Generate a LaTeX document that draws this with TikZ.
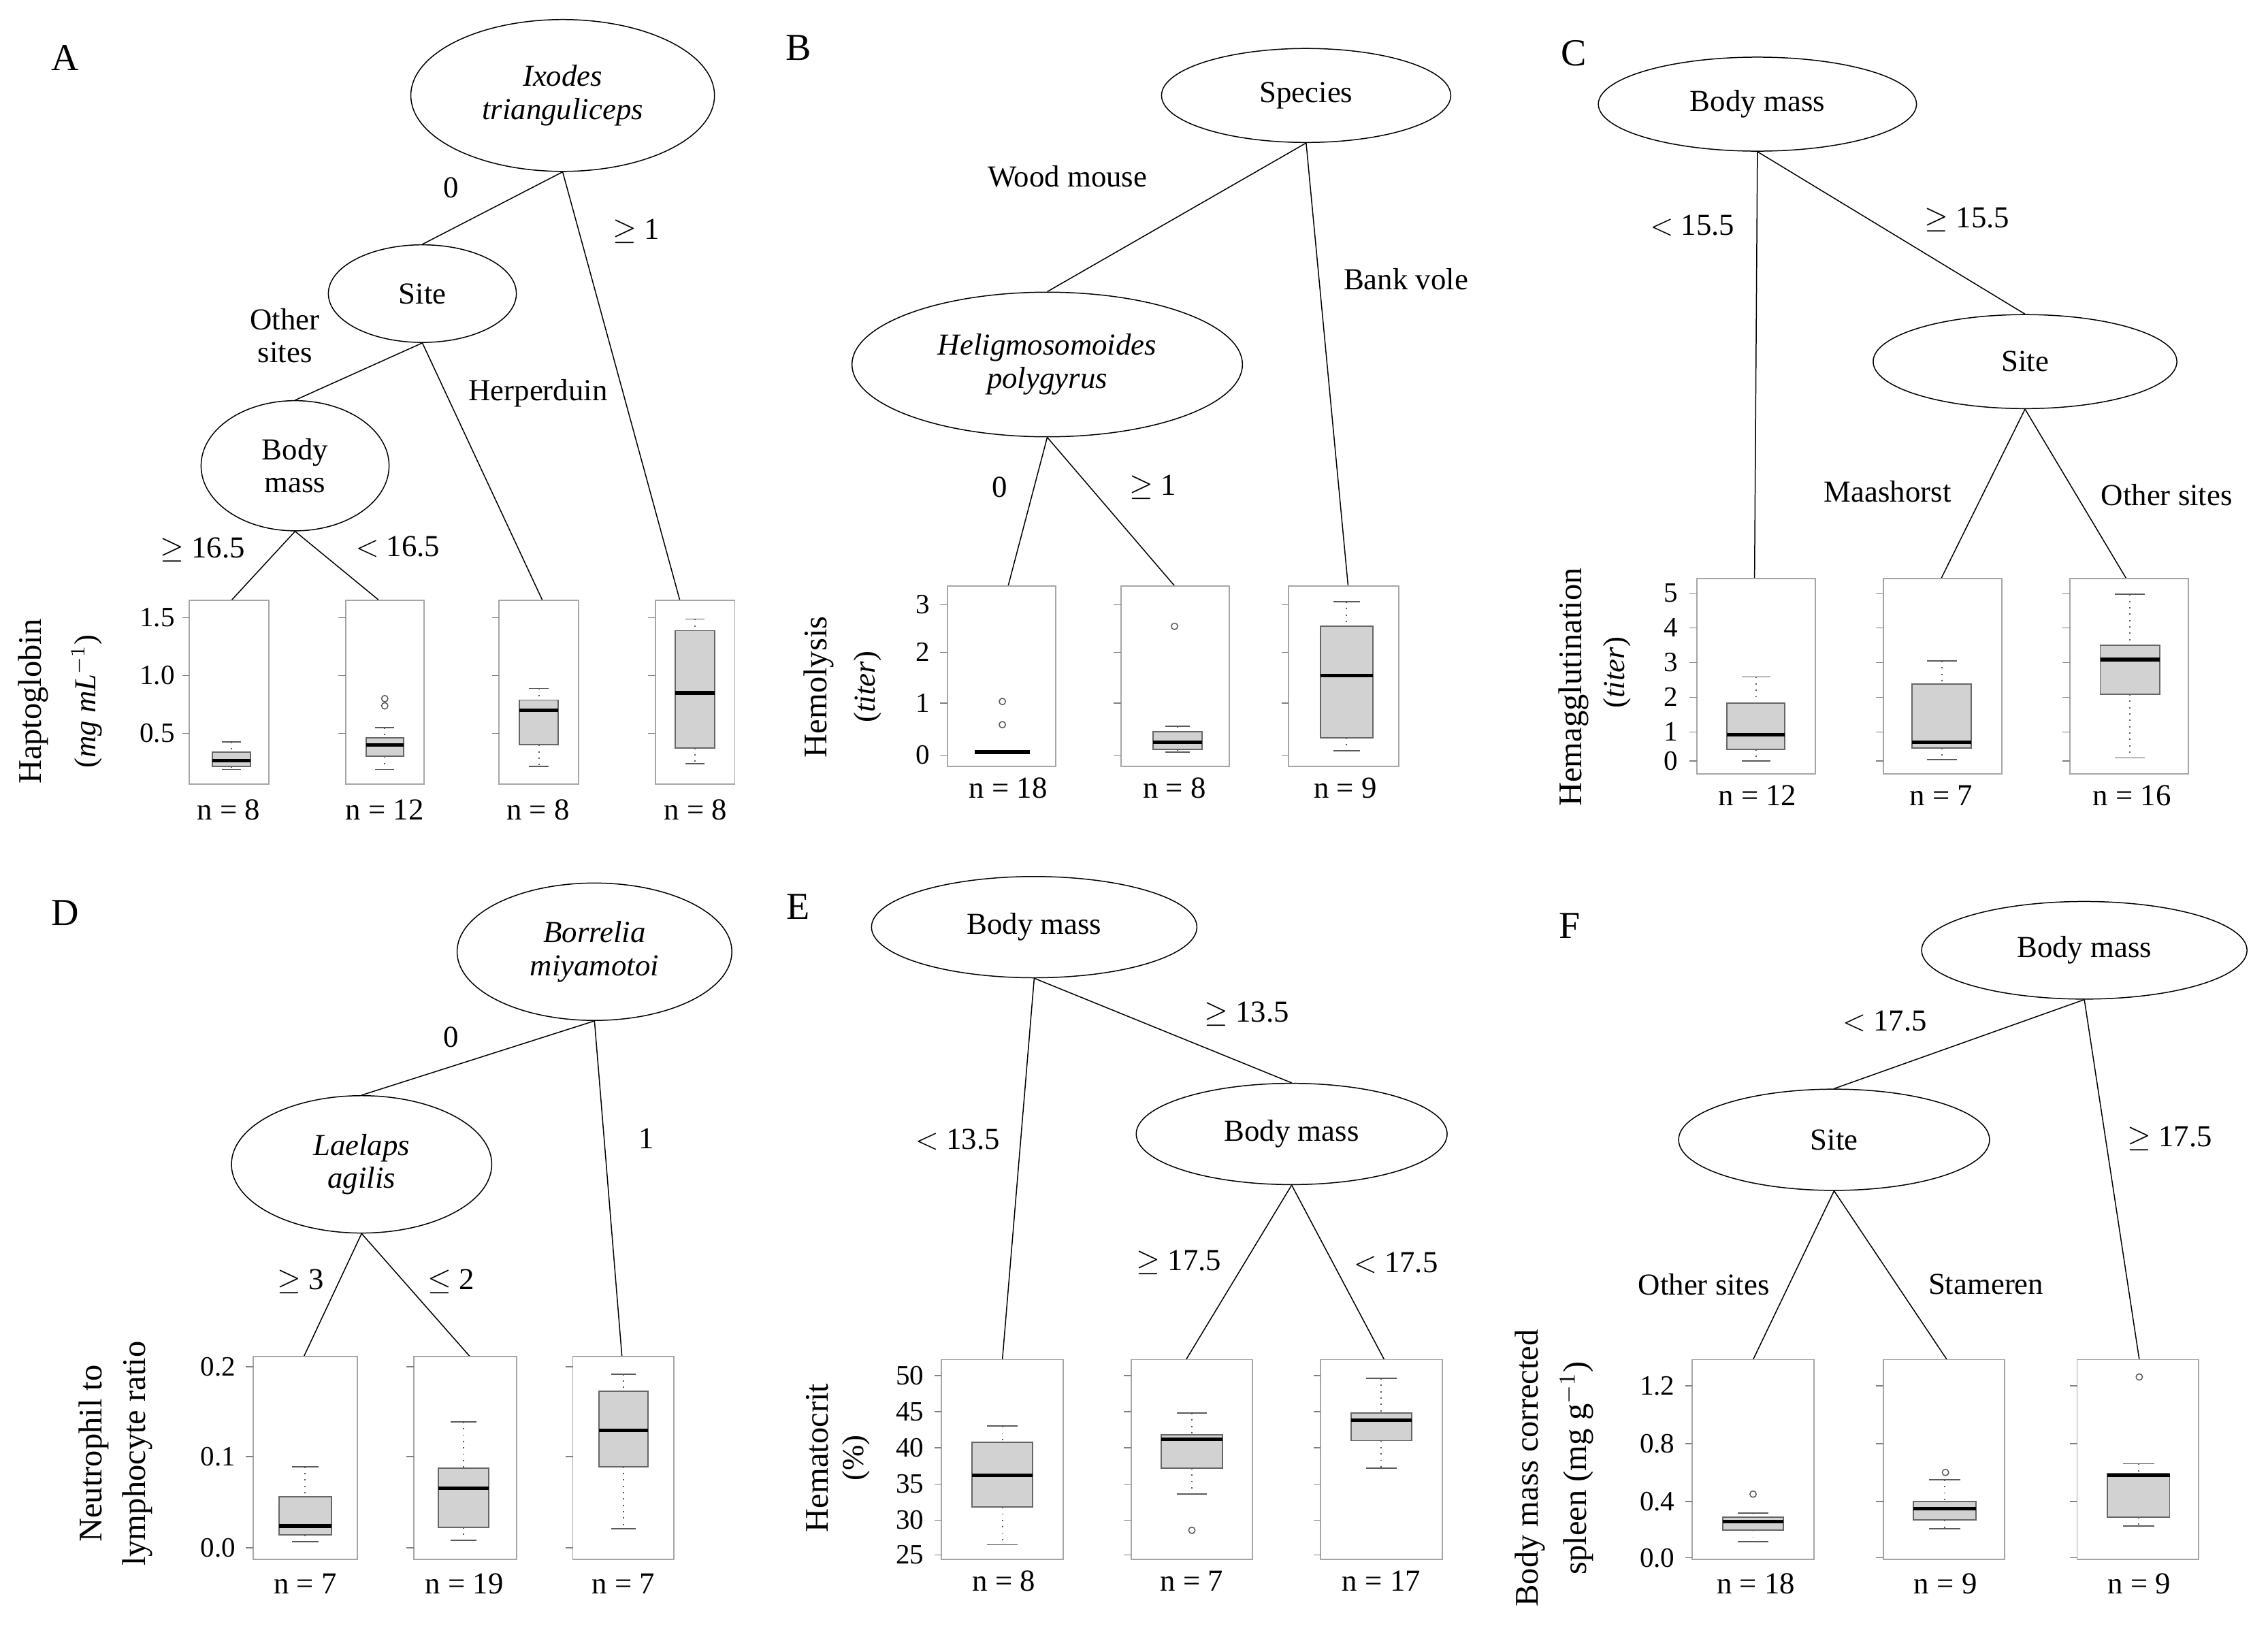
\documentclass[tikz,border=0pt]{standalone}
\usepackage{fontspec}
\setmainfont{Liberation Serif}
\usetikzlibrary{shapes.geometric}
\tikzset{
  split/.style={draw, ellipse, inner sep=0pt, font=\fontsize{12}{13}\selectfont, align=center},
  lab/.style={font=\fontsize{12}{13}\selectfont},
  frm/.style={draw=gray!70, line width=0.5pt},
  bx/.style={draw=gray!80!black, fill=gray!35, line width=0.5pt},
  whisk/.style={draw=gray!70!black, dotted, line width=0.5pt},
  med/.style={line width=1.4pt},
  tick/.style={font=\fontsize{11}{12}\selectfont},
}
% frame: x1 x2 y1 y2
\newcommand\frm[4]{\draw[frm] (#1,#3) rectangle (#2,#4);}
% box: x1 x2 whisker-top box-top median box-bottom whisker-bottom
\newcommand\bpl[7]{%
  \pgfmathsetmacro\cx{(#1+#2)/2}\pgfmathsetmacro\cw{(#2-#1)/4}
  \draw[whisk] (\cx,#3) -- (\cx,#4) (\cx,#6) -- (\cx,#7);
  \draw[gray!70!black, line width=0.5pt] (\cx-\cw,#3) -- (\cx+\cw,#3) (\cx-\cw,#7) -- (\cx+\cw,#7);
  \draw[bx] (#1,#4) rectangle (#2,#6);
  \draw[med] (#1,#5) -- (#2,#5);}
\newcommand\outl[2]{\draw[gray!70!black, line width=0.4pt] (#1,#2) circle (2.2);}
\begin{document}
\begin{tikzpicture}[x=0.02cm, y=-0.02cm]
  \useasboundingbox (0,0) rectangle (1568,1133);
  \foreach \p/\x/\y in {A/45/40, B/552/33, C/1088/37, D/45/631, E/552/627, F/1085/640}
    \node[font=\fontsize{15}{16}\selectfont] at (\x,\y) {\p};

  % Panel A
  \node[split, minimum width=4.2cm, minimum height=2.1cm] (ixo) at (389,66) {\textit{Ixodes}\\\textit{trianguliceps}};
  \node[split, minimum width=2.6cm, minimum height=1.35cm] (siteA) at (292,203) {Site};
  \node[split, minimum width=2.6cm, minimum height=1.8cm] (bmA) at (204,322) {Body\\mass};
  \foreach \n/\x in {a1/160, a2/262, a3/375, a4/470} \coordinate (\n) at (\x,415);
  \draw (ixo.south) -- (siteA.north); \draw (ixo.south) -- (a4);
  \draw (siteA.south) -- (bmA.north); \draw (siteA.south) -- (a3);
  \draw (bmA.south) -- (a1); \draw (bmA.south) -- (a2);
  \node[lab] at (312,130) {0};
  \node[lab] at (440,160) {$\geq$ 1};
  \node[lab, align=center] at (197,232) {Other\\sites};
  \node[lab] at (372,272) {Herperduin};
  \node[lab] at (140,380) {$\geq$ 16.5};
  \node[lab] at (275,378) {$<$ 16.5};
  \foreach \xa/\xb in {131/186, 239/293, 345/400, 453/508} {
    \frm{\xa}{\xb}{415}{542}
    \foreach \t in {427, 467, 507} \draw[gray] (\xa,\t) -- ++(-5,0);
  }
  \foreach \t/\l in {427/1.5, 467/1.0, 507/0.5} \node[tick, left] at (127,\t) {\l};
  \bpl{147}{173}{513}{520}{526}{530}{532}
  \bpl{253}{279}{503}{510}{515}{523}{532} \outl{266}{483} \outl{266}{488}
  \bpl{359}{386}{476}{484}{491}{515}{530}
  \bpl{467}{494}{428}{436}{479}{517}{528}
  \foreach \x/\n in {158/8, 266/12, 372/8, 481/8} \node[lab] at (\x,560) {n = \n};
  \node[lab, rotate=90, font=\fontsize{13}{14}\selectfont] at (23,485) {Haptoglobin};
  \node[lab, rotate=90] at (60,485) {(\textit{mg mL}$^{-1}$)};

  % Panel B
  \node[split, minimum width=4cm, minimum height=1.3cm] (spec) at (903,66) {Species};
  \node[split, minimum width=5.4cm, minimum height=2cm] (heli) at (724,252) {\textit{Heligmosomoides}\\\textit{polygyrus}};
  \foreach \n/\x in {b1/697, b2/812, b3/932} \coordinate (\n) at (\x,405);
  \draw (spec.south) -- (heli.north); \draw (spec.south) -- (b3);
  \draw (heli.south) -- (b1); \draw (heli.south) -- (b2);
  \node[lab] at (738,122) {Wood mouse};
  \node[lab] at (972,193) {Bank vole};
  \node[lab] at (691,337) {0};
  \node[lab] at (797,337) {$\geq$ 1};
  \foreach \xa/\xb in {655/730, 775/850, 891/967} {
    \frm{\xa}{\xb}{405}{530}
    \foreach \t in {418, 451, 486, 522} \draw[gray] (\xa,\t) -- ++(-5,0);
  }
  \foreach \t/\l in {418/3, 451/2, 486/1, 522/0} \node[tick, left] at (649,\t) {\l};
  \draw[med] (674,520) -- (712,520); \outl{693}{485} \outl{693}{501}
  \bpl{797}{831}{502}{506}{513}{518}{520} \outl{812}{433}
  \bpl{913}{949}{416}{433}{467}{510}{519}
  \foreach \x/\n in {697/18, 812/8, 930/9} \node[lab] at (\x,545) {n = \n};
  \node[lab, rotate=90, font=\fontsize{13}{14}\selectfont] at (566,475) {Hemolysis};
  \node[lab, rotate=90] at (600,475) {(\textit{titer})};

  % Panel C
  \node[split, minimum width=4.4cm, minimum height=1.3cm] (bmC) at (1215,72) {Body mass};
  \node[split, minimum width=4.2cm, minimum height=1.3cm] (siteC) at (1400,250) {Site};
  \foreach \n/\x in {c1/1213, c2/1342, c3/1470} \coordinate (\n) at (\x,400);
  \draw (bmC.south) -- (c1); \draw (bmC.south) -- (siteC.north);
  \draw (siteC.south) -- (c2); \draw (siteC.south) -- (c3);
  \node[lab] at (1170,156) {$<$ 15.5};
  \node[lab] at (1360,152) {$\geq$ 15.5};
  \node[lab] at (1305,340) {Maashorst};
  \node[lab] at (1498,342) {Other sites};
  \foreach \xa/\xb in {1173/1255, 1302/1384, 1431/1513} {
    \frm{\xa}{\xb}{400}{535}
    \foreach \t in {410, 434, 458, 482, 506, 526} \draw[gray] (\xa,\t) -- ++(-5,0);
  }
  \foreach \t/\l in {410/5, 434/4, 458/3, 482/2, 506/1, 526/0} \node[tick, left] at (1166,\t) {\l};
  \bpl{1194}{1234}{468}{486}{508}{518}{526}
  \bpl{1322}{1363}{457}{473}{513}{517}{525}
  \bpl{1452}{1493}{411}{446}{456}{480}{524}
  \foreach \x/\n in {1215/12, 1342/7, 1474/16} \node[lab] at (\x,550) {n = \n};
  \node[lab, rotate=90, font=\fontsize{13}{14}\selectfont] at (1088,475) {Hemagglutination};
  \node[lab, rotate=90] at (1118,465) {(\textit{titer})};

  % Panel D
  \node[split, minimum width=3.8cm, minimum height=1.9cm] (borr) at (411,658) {\textit{Borrelia}\\\textit{miyamotoi}};
  \node[split, minimum width=3.6cm, minimum height=1.9cm] (lael) at (250,805) {\textit{Laelaps}\\\textit{agilis}};
  \foreach \n/\x in {d1/210, d2/325, d3/430} \coordinate (\n) at (\x,938);
  \draw (borr.south) -- (lael.north); \draw (borr.south) -- (d3);
  \draw (lael.south) -- (d1); \draw (lael.south) -- (d2);
  \node[lab] at (312,717) {0};
  \node[lab] at (447,787) {1};
  \node[lab] at (208,886) {$\geq$ 3};
  \node[lab] at (312,886) {$\leq$ 2};
  \foreach \xa/\xb in {175/247, 286/357, 396/466} {
    \frm{\xa}{\xb}{938}{1078}
    \foreach \t in {945, 1007, 1070} \draw[gray] (\xa,\t) -- ++(-5,0);
  }
  \foreach \t/\l in {945/0.2, 1007/0.1, 1070/0.0} \node[tick, left] at (169,\t) {\l};
  \bpl{193}{229}{1014}{1035}{1055}{1061}{1066}
  \bpl{303}{338}{983}{1015}{1029}{1056}{1065}
  \bpl{414}{448}{950}{962}{989}{1014}{1057}
  \foreach \x/\n in {211/7, 321/19, 431/7} \node[lab] at (\x,1095) {n = \n};
  \node[lab, rotate=90, font=\fontsize{13}{14}\selectfont] at (65,1005) {Neutrophil to};
  \node[lab, rotate=90, font=\fontsize{13}{14}\selectfont] at (95,1005) {lymphocyte ratio};

  % Panel E
  \node[split, minimum width=4.5cm, minimum height=1.4cm] (bmE) at (715,641) {Body mass};
  \node[split, minimum width=4.3cm, minimum height=1.4cm] (bmE2) at (893,784) {Body mass};
  \foreach \n/\x in {e1/693, e2/820, e3/957} \coordinate (\n) at (\x,940);
  \draw (bmE.south) -- (e1); \draw (bmE.south) -- (bmE2.north);
  \draw (bmE2.south) -- (e2); \draw (bmE2.south) -- (e3);
  \node[lab] at (662,788) {$<$ 13.5};
  \node[lab] at (862,701) {$\geq$ 13.5};
  \node[lab] at (815,873) {$\geq$ 17.5};
  \node[lab] at (965,873) {$<$ 17.5};
  \foreach \xa/\xb in {651/735, 782/866, 913/997} {
    \frm{\xa}{\xb}{940}{1078}
    \foreach \t in {951, 976, 1001, 1026, 1051, 1075} \draw[gray] (\xa,\t) -- ++(-5,0);
  }
  \foreach \t/\l in {951/50, 976/45, 1001/40, 1026/35, 1051/30, 1075/25} \node[tick, left] at (645,\t) {\l};
  \bpl{672}{714}{986}{997}{1020}{1042}{1068}
  \bpl{803}{845}{977}{992}{995}{1015}{1033} \outl{824}{1058}
  \bpl{934}{976}{953}{977}{982}{996}{1015}
  \foreach \x/\n in {694/8, 824/7, 955/17} \node[lab] at (\x,1093) {n = \n};
  \node[lab, rotate=90, font=\fontsize{13}{14}\selectfont] at (565,1008) {Hematocrit};
  \node[lab, rotate=90] at (592,1008) {(\%)};

  % Panel F
  \node[split, minimum width=4.5cm, minimum height=1.35cm] (bmF) at (1441,657) {Body mass};
  \node[split, minimum width=4.3cm, minimum height=1.4cm] (siteF) at (1268,788) {Site};
  \foreach \n/\x in {f1/1212, f2/1346, f3/1479} \coordinate (\n) at (\x,940);
  \draw (bmF.south) -- (siteF.north); \draw (bmF.south) -- (f3);
  \draw (siteF.south) -- (f1); \draw (siteF.south) -- (f2);
  \node[lab] at (1303,706) {$<$ 17.5};
  \node[lab] at (1500,787) {$\geq$ 17.5};
  \node[lab] at (1178,888) {Other sites};
  \node[lab] at (1373,888) {Stameren};
  \foreach \xa/\xb in {1170/1254, 1302/1386, 1436/1520} {
    \frm{\xa}{\xb}{940}{1078}
    \foreach \t in {958, 998, 1038, 1077} \draw[gray] (\xa,\t) -- ++(-5,0);
  }
  \foreach \t/\l in {958/1.2, 998/0.8, 1038/0.4, 1077/0.0} \node[tick, left] at (1164,\t) {\l};
  \bpl{1191}{1233}{1046}{1049}{1052}{1058}{1066} \outl{1212}{1033}
  \bpl{1323}{1366}{1023}{1038}{1043}{1051}{1057} \outl{1345}{1018}
  \bpl{1457}{1500}{1012}{1019}{1020}{1049}{1055} \outl{1479}{952}
  \foreach \x/\n in {1214/18, 1345/9, 1479/9} \node[lab] at (\x,1095) {n = \n};
  \node[lab, rotate=90, font=\fontsize{13}{14}\selectfont] at (1058,1015) {Body mass corrected};
  \node[lab, rotate=90, font=\fontsize{13}{14}\selectfont] at (1090,1015) {spleen (mg g$^{-1}$)};
\end{tikzpicture}
\end{document}
